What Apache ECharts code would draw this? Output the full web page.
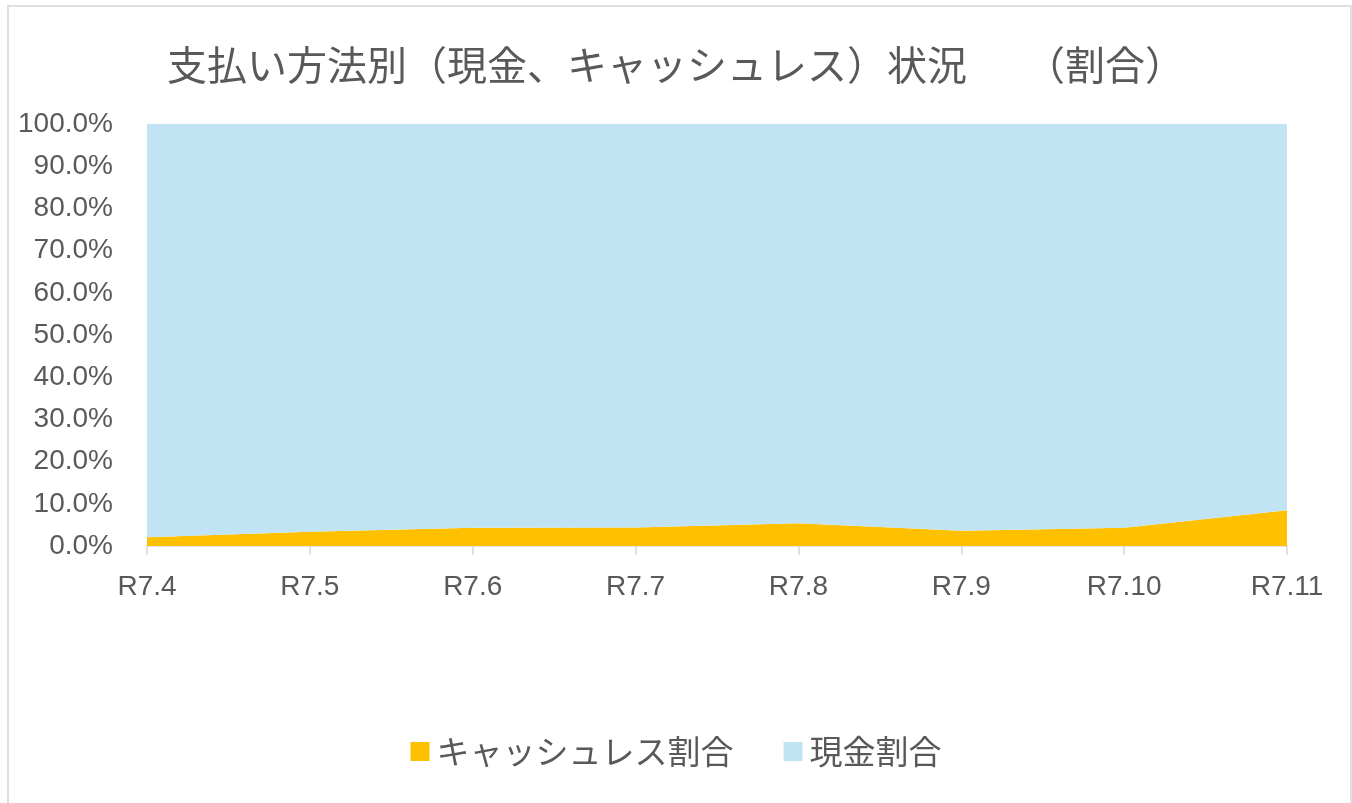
<!DOCTYPE html>
<html><head><meta charset="utf-8">
<script src="https://cdn.jsdelivr.net/npm/echarts@6/dist/echarts.min.js"></script>
<style>
html,body{margin:0;padding:0;background:#fff;}
#frame{position:absolute;left:7px;top:5px;width:1345px;height:810px;border:2px solid #e0e0e0;box-sizing:border-box;}
#c{position:absolute;left:0;top:0;width:1352px;height:803px;}
</style></head>
<body><div id="frame"></div><div id="c"></div>
<script>
const categories = ['R7.4','R7.5','R7.6','R7.7','R7.8','R7.9','R7.10','R7.11'];
const cashless = [2.1, 3.4, 4.3, 4.4, 5.4, 3.6, 4.3, 8.5];
const cash = [97.9, 96.6, 95.7, 95.6, 94.6, 96.4, 95.7, 91.5];
const titleText = '支払い方法別（現金、キャッシュレス）状況　  （割合）';
const font = '"Noto Sans CJK JP", "Noto Sans", sans-serif';
const numFont = '"Liberation Sans", Arial, sans-serif';
const chart = echarts.init(document.getElementById('c'));
chart.setOption({
  animation:false,
  title:{text:titleText,left:'center',top:40,textStyle:{color:'#595959',fontSize:40,fontWeight:'normal',fontFamily:font}},
  legend:{bottom:30,left:'center',itemWidth:19,itemHeight:19,itemGap:50,icon:'rect',
    textStyle:{color:'#595959',fontSize:33,fontFamily:font,padding:[0,0,0,2]},
    data:['キャッシュレス割合','現金割合']},
  grid:{left:147,right:65,top:124,bottom:257},
  xAxis:{type:'category',data:categories,boundaryGap:false,
    axisLine:{lineStyle:{color:'#d9d9d9',width:1.5}},
    axisTick:{show:true,length:9,lineStyle:{color:'#d9d9d9',width:1.5}},
    axisLabel:{color:'#595959',fontSize:28,margin:27,fontFamily:numFont}},
  yAxis:{type:'value',min:0,max:100,interval:10,
    axisLine:{show:false},axisTick:{show:false},splitLine:{show:false},
    axisLabel:{color:'#595959',fontSize:28,margin:34,fontFamily:numFont,formatter:v=>v.toFixed(1)+'%'}},
  series:[
    {name:'キャッシュレス割合',type:'line',stack:'a',data:cashless,symbol:'none',
      lineStyle:{width:0},areaStyle:{color:'#FFC000',opacity:1},itemStyle:{color:'#FFC000'}},
    {name:'現金割合',type:'line',stack:'a',data:cash,symbol:'none',
      lineStyle:{width:0},areaStyle:{color:'#C1E4F5',opacity:1},itemStyle:{color:'#C1E4F5'}}
  ]
});
</script></body></html>
